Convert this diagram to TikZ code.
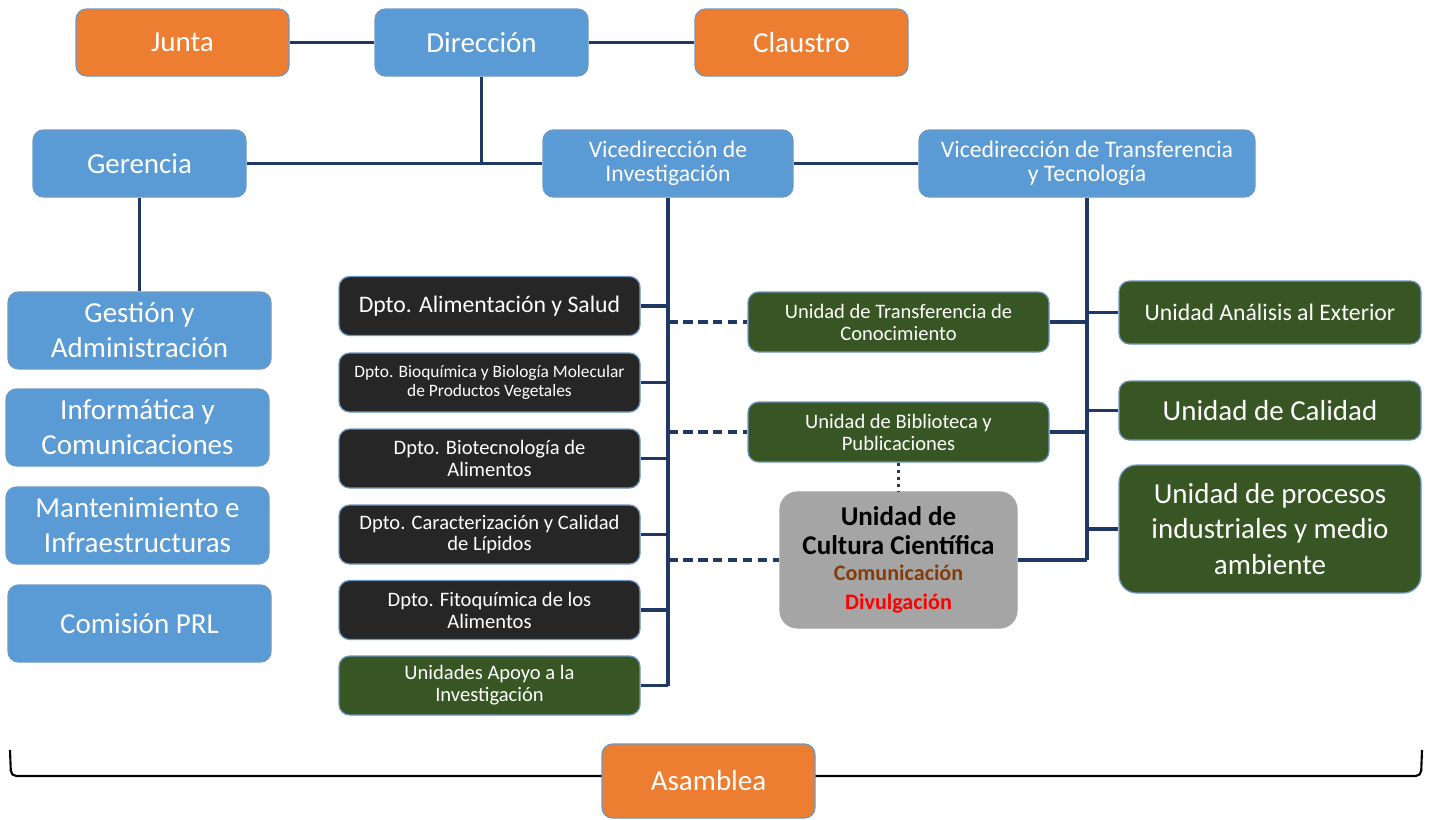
\documentclass[tikz,border=0pt]{standalone}
\usepackage{fontspec}
\setmainfont{Carlito}
\usetikzlibrary{positioning, calc}
\definecolor{naranja}{HTML}{ED7D31}
\definecolor{azul}{HTML}{5B9BD5}
\definecolor{oscuro}{HTML}{262626}
\definecolor{verde}{HTML}{375623}
\definecolor{gris}{HTML}{A5A5A5}
\definecolor{marino}{HTML}{203864}
\definecolor{borde}{HTML}{6E98C4}
\definecolor{marron}{HTML}{843C0C}
\newcommand{\grande}{\fontsize{16.5}{20}\selectfont}
\newcommand{\medio}{\fontsize{13.5}{13.5}\selectfont}
\newcommand{\chico}{\fontsize{11.7}{12.5}\selectfont}

\begin{document}
\begin{tikzpicture}[
    x=0.02cm, y=-0.02cm,
    caja/.style 2 args={
        rectangle,
        draw=borde,
        line width=0.7pt,
        rounded corners=6pt,
        align=center,
        text=white,
        inner sep=2pt,
        minimum width=#1*0.02cm,% widths given in picture units
        minimum height=#2*0.02cm
    },
    consejo/.style={fill=naranja},
    gestora/.style={fill=azul},
    dpto/.style={fill=oscuro},
    unidad/.style={fill=verde},
    linea/.style={draw=marino, line width=1.9pt},
    enlace/.style={linea, dash pattern=on 5.5pt off 3pt},
    punteo/.style={linea, dash pattern=on 2pt off 2pt}
]
    \useasboundingbox (0,0) rectangle (1432,819);

    % --- Gobierno ---
    \node[caja={213}{67}, consejo, font=\grande] (junta) at (182.5,42.5) {Junta};
    \node[caja={213}{67}, gestora, font=\grande] (dir) at (481.5,42.5) {Dirección};
    \node[caja={213}{67}, consejo, font=\grande] (claustro) at (801.5,42.5) {Claustro};

    % --- Gerencia y vicedirecciones ---
    \node[caja={213}{67}, gestora, font=\grande] (ger) at (139.5,163.5) {Gerencia};
    \node[caja={250}{67}, gestora, font=\medio] (vinv) at (668,163.5) {Vicedirección de\\Investigación};
    \node[caja={336}{67}, gestora, font=\medio] (vtra) at (1087,163.5) {Vicedirección de Transferencia\\y Tecnología};

    % --- Servicios de gerencia ---
    \node[caja={263}{77}, gestora, font=\grande] (gestion) at (139.5,330.5) {Gestión y\\Administración};
    \node[caja={263}{77}, gestora, font=\grande] (info) at (137.5,427.5) {Informática y\\Comunicaciones};
    \node[caja={263}{77}, gestora, font=\grande] (mant) at (137.5,525.5) {Mantenimiento e\\Infraestructuras};
    \node[caja={263}{77}, gestora, font=\grande] (prl) at (139.5,623.5) {Comisión PRL};

    % --- Departamentos ---
    \node[caja={301}{59}, dpto, font=\medio] (alim) at (489.5,306) {Dpto. Alimentación y Salud};
    \node[caja={301}{59}, dpto, font=\fontsize{9.9}{10.5}\selectfont] (bioq) at (489.5,382.5) {Dpto. Bioquímica y Biología Molecular\\de Productos Vegetales};
    \node[caja={301}{59}, dpto, font=\chico] (biot) at (489.5,458.5) {Dpto. Biotecnología de\\Alimentos};
    \node[caja={301}{59}, dpto, font=\chico] (lip) at (489.5,534.5) {Dpto. Caracterización y Calidad\\de Lípidos};
    \node[caja={301}{59}, dpto, font=\chico] (fito) at (489.5,610) {Dpto. Fitoquímica de los\\Alimentos};
    \node[caja={301}{59}, unidad, font=\chico] (apoyo) at (489.5,685.5) {Unidades Apoyo a la\\Investigación};

    % --- Unidades centrales ---
    \node[caja={301}{60}, unidad, font=\chico] (utc) at (898.5,322) {Unidad de Transferencia de\\Conocimiento};
    \node[caja={301}{60}, unidad, font=\chico] (ubp) at (898.5,432) {Unidad de Biblioteca y\\Publicaciones};
    \node[caja={237}{136}, fill=gris, draw=gray!70, text=black, rounded corners=10pt,
          font=\bfseries\fontsize{15.4}{16.5}\selectfont] (ucc) at (898.5,560) {%
        Unidad de\\Cultura Científica\\[-2pt]
        \fontsize{12.6}{13.5}\selectfont\color{marron}Comunicación\\
        \fontsize{12.6}{13.5}\selectfont\color{red}Divulgación};

    % --- Unidades de transferencia ---
    \node[caja={302}{63}, unidad, font=\medio] (ana) at (1270,312.5) {Unidad Análisis al Exterior};
    \node[caja={302}{59}, unidad, font=\grande] (cal) at (1270,410.5) {Unidad de Calidad};
    \node[caja={302}{128}, unidad, font=\grande, rounded corners=10pt] (proc) at (1270,529) {Unidad de procesos\\industriales y medio\\ambiente};

    % --- Conexiones de gobierno ---
    \draw[linea] (junta) -- (dir);
    \draw[linea] (dir) -- (claustro);
    \draw[linea] (dir.south) -- (dir.south |- ger.east);
    \draw[linea] (ger) -- (vinv);
    \draw[linea] (vinv) -- (vtra);
    \draw[linea] (ger) -- (gestion);

    % --- Investigación ---
    \draw[linea] (vinv.south) -- (vinv.south |- apoyo.east);
    \foreach \d in {alim, bioq, biot, lip, fito, apoyo}
        \draw[linea] (\d.east) -- (\d.east -| vinv.south);
    \draw[enlace] (utc.west -| vinv.south) -- (utc.west);
    \draw[enlace] (ubp.west -| vinv.south) -- (ubp.west);
    \draw[enlace] (ucc.west -| vinv.south) -- (ucc.west);
    \draw[punteo] (ubp.south) -- (ucc.north);

    % --- Transferencia ---
    \draw[linea] (vtra.south) -- (vtra.south |- ucc.east);
    \foreach \u in {utc, ubp, ucc}
        \draw[linea] (\u.east) -- (\u.east -| vtra.south);
    \foreach \u in {ana, cal, proc}
        \draw[linea] (\u.west -| vtra.south) -- (\u.west);

    % --- Asamblea ---
    \coordinate (llave-i) at (10,750);
    \coordinate (llave-d) at (1422,750);
    \draw[black, line width=1.2pt, rounded corners=3pt] (llave-i) -- ++(1,26) -- ($(llave-d)+(-1,26)$) -- (llave-d);
    \node[caja={213}{74}, consejo, font=\grande] (asamblea) at (708.5,781) {Asamblea};

\end{tikzpicture}
\end{document}
